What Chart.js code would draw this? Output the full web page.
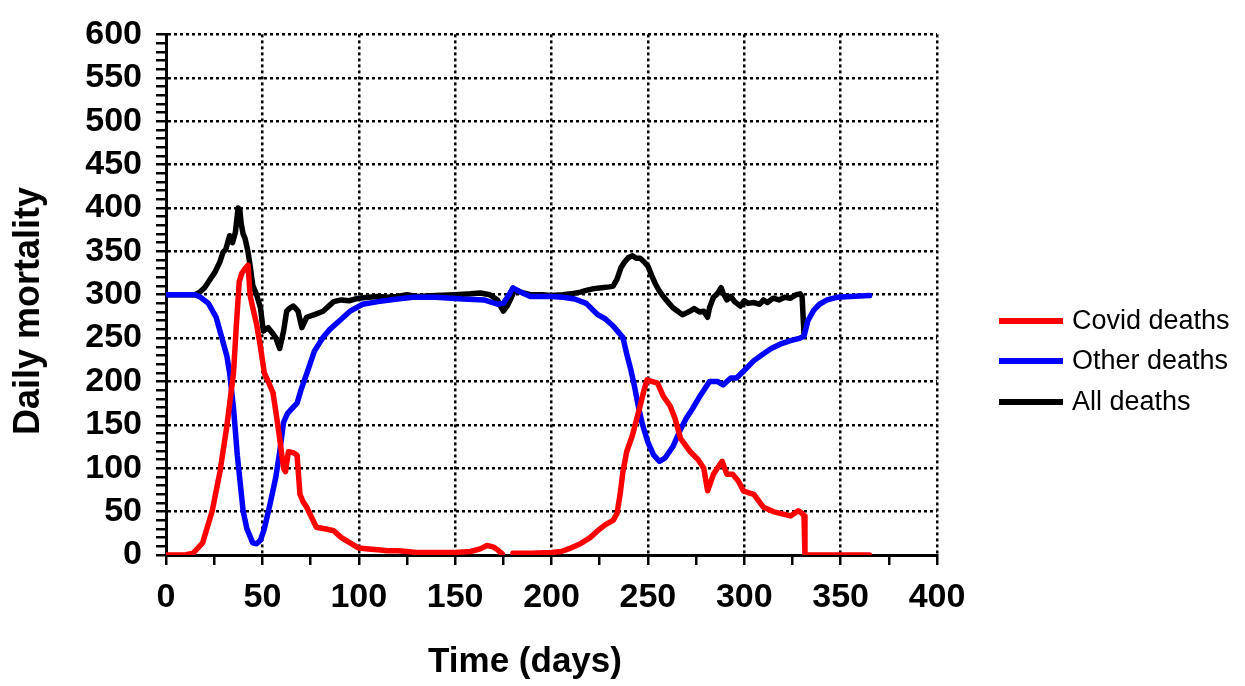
<!DOCTYPE html>
<html>
<head>
<meta charset="utf-8">
<script src="https://cdn.jsdelivr.net/npm/chart.js@4.4.1/dist/chart.umd.min.js"></script>
<style>
  html, body { margin: 0; padding: 0; background: #fff; }
  #wrap { width: 1245px; height: 686px; }
</style>
</head>
<body>
<div id="wrap"><canvas id="mortChart" width="1245" height="686"></canvas></div>
<script>
// ===== DATA =====
const covidDays = [0, 10, 14, 19, 24, 28, 31.6, 35, 36.5, 38, 39.4, 41, 42.6, 43.6, 45, 47, 49, 51, 53, 55.5, 57, 59, 61, 62, 63.5, 66, 68, 69.5, 71, 73, 78, 83, 87, 91, 95.5, 100, 105, 110, 115, 120, 125, 130, 140, 150, 158, 163, 166.5, 170, 172, 174.5,
  177,
  180, 185, 190, 200, 205, 210, 215, 220, 224, 228, 232, 234, 235.6, 237, 239, 242, 244, 246, 248, 249.6, 252, 255, 258, 261.5, 264, 267, 272, 276, 279, 281, 284, 286, 288.5, 291, 294, 297, 299.5, 302, 305, 310, 315, 318.6, 324, 328, 330, 331, 331.5, 365];
const covidValues = [0, 0, 2, 14, 51, 96, 149, 209, 265, 315, 325, 330, 334, 300, 285, 266, 240, 210, 200, 187, 165, 134, 100, 96, 119, 118, 115, 70, 62, 55, 32, 30, 28, 20, 14, 8, 7, 6, 5, 5, 4, 3, 3, 3, 4, 7, 11, 9, 6, 1,
  null,
  2, 2, 2, 3, 4, 8, 13, 20, 28, 35, 40, 48, 70, 95, 119, 138, 155, 172, 190, 202, 200, 198, 183, 172, 158, 134, 119, 110, 100, 74, 93, 100, 108, 93, 93, 85, 74, 72, 70, 55, 50, 48, 45, 51, 48, 45, 0, 0];

const otherDays = [0, 15, 18, 22, 26, 29, 31.6, 33, 35, 37, 40, 42, 45, 47, 49, 51, 54, 57, 59, 61, 63, 65, 68, 70, 73, 77, 81.5, 85, 90, 95.5, 102, 110, 120, 128, 140, 154, 165, 172, 175, 178, 180, 183, 189, 200, 206, 212, 218, 224, 228, 232, 235, 237, 239, 241, 243, 245, 247, 250, 253, 256, 259, 263, 267, 270, 273, 277, 282, 286, 289, 293, 296, 301, 305, 310, 314, 318.6, 324, 329, 331, 333, 336, 339, 343, 348, 355, 365];
const otherValues = [300, 300, 297, 290, 274, 250, 229, 210, 170, 115, 51, 30, 14, 13, 17, 30, 59, 90, 119, 153, 163, 168, 175, 190, 209, 235, 251, 260, 270, 281, 289, 292, 295, 297, 297, 295, 294, 289, 290, 300, 308, 304, 298, 298, 297, 295, 290, 277, 272, 264, 256, 251, 232, 215, 195, 172, 152, 130, 115, 108, 112, 125, 145, 158, 168, 183, 200, 200, 196, 204, 204, 215, 224, 232, 238, 243, 247, 250, 252, 270, 282, 289, 294, 297, 298, 299];

const allDays = [0, 15, 17.6, 20, 23, 25.4, 28, 29.6, 31, 33, 34.5, 36, 37.4, 38.3, 39, 40, 41, 42.5, 43.6, 45, 47, 49, 50.5, 53, 55.5, 57, 59, 61, 62.6, 64, 66, 68.5, 70.5, 73, 77, 81.5, 87, 91, 95, 100, 105, 110, 115, 120, 125, 130, 140, 150, 158, 163, 168, 172, 174, 175, 177, 179, 181, 184, 189, 195, 200, 206, 210, 215, 218, 222, 226, 230, 232, 234, 236, 238, 240, 242, 244, 246, 248, 250, 252, 254, 256, 258, 261, 263, 266, 268, 271, 274, 277, 279, 281, 282, 284, 286, 288, 289, 291, 293, 295, 298, 300, 302, 305, 308, 310, 312, 315, 318, 321, 324, 327, 329, 330, 331];
const allValues = [300, 300, 303, 308, 318, 326, 338, 349, 352, 368, 360, 372, 400, 398, 382, 370, 365, 350, 334, 311, 300, 285, 258, 262, 255, 250, 238, 258, 281, 284, 287, 281, 262, 274, 277, 281, 292, 294, 293, 296, 297, 298, 297, 298, 300, 298, 299, 300, 301, 302, 300, 294, 285, 281, 287, 296, 306, 303, 300, 300, 299, 300, 301, 303, 305, 307, 308, 309, 310, 318, 331, 338, 343, 345, 342, 342, 338, 333, 322, 312, 304, 298, 290, 285, 280, 277, 280, 284, 280, 281, 274, 285, 297, 301, 308, 302, 294, 298, 292, 287, 293, 290, 291, 289, 294, 291, 296, 294, 297, 296, 300, 301, 298, 255];

const xTickLabels = [0, 50, 100, 150, 200, 250, 300, 350, 400];
const yTickLabels = [0, 50, 100, 150, 200, 250, 300, 350, 400, 450, 500, 550, 600];

const seriesNames = ["Covid deaths", "Other deaths", "All deaths"];
const seriesColors = ["#ff0000", "#0000ff", "#000000"];

// ===== HELPERS =====
function toPoints(days, vals) {
  return days.map((d, i) => ({ x: d, y: vals[i] }));
}

const FONT = "'Liberation Sans', Arial, sans-serif";

// legend + axis titles drawn on the canvas
const extraText = {
  id: "extraText",
  afterDraw(chart) {
    const c = chart.ctx;
    c.save();
    // legend
    c.font = "27px " + FONT;
    c.textBaseline = "middle";
    c.textAlign = "left";
    const rows = [321, 361, 402];
    seriesNames.forEach((name, i) => {
      c.strokeStyle = seriesColors[i];
      c.lineWidth = 6;
      c.beginPath();
      c.moveTo(999, rows[i]);
      c.lineTo(1063, rows[i]);
      c.stroke();
      c.fillStyle = "#000";
      c.fillText(name, 1072, rows[i] + 1);
    });
    // axis titles
    c.font = "bold 35px " + FONT;
    c.textAlign = "center";
    c.fillText("Time (days)", 525, 662);
    c.translate(29, 311);
    c.rotate(-Math.PI / 2);
    c.font = "bold 36px " + FONT;
    c.fillText("Daily mortality", 0, 0);
    c.restore();
  }
};

const gridColor = c => (c.tick && c.tick.value % 50 === 0) ? "#000" : "rgba(0,0,0,0)";

// ===== CHART =====
const ctx = document.getElementById("mortChart").getContext("2d");

const mortChart = new Chart(ctx, {
  type: "line",
  data: {
    datasets: [
      {
        label: seriesNames[0],
        data: toPoints(covidDays, covidValues),
        borderColor: seriesColors[0],
        borderWidth: 5.5,
        spanGaps: false
      },
      {
        label: seriesNames[1],
        data: toPoints(otherDays, otherValues),
        borderColor: seriesColors[1],
        borderWidth: 5.5
      },
      {
        label: seriesNames[2],
        data: toPoints(allDays, allValues),
        borderColor: seriesColors[2],
        borderWidth: 5.5
      }
    ]
  },
  options: {
    responsive: false,
    animation: false,
    devicePixelRatio: 1,
    layout: { padding: { top: 27, right: 308, bottom: 0, left: 0 } },
    elements: {
      line: { tension: 0, borderJoinStyle: "round", borderCapStyle: "round", fill: false },
      point: { radius: 0, hoverRadius: 0 }
    },
    plugins: {
      legend: { display: false },
      tooltip: { enabled: false }
    },
    scales: {
      x: {
        type: "linear",
        min: 0,
        max: 400,
        afterFit: s => { s.height = 131; },
        ticks: {
          stepSize: 25,
          padding: 12,
          autoSkip: false,
          maxRotation: 0,
          minRotation: 0,
          color: "#000",
          font: { family: FONT, size: 34, weight: "bold" },
          callback: v => xTickLabels.includes(v) ? String(v) : ""
        },
        grid: {
          color: gridColor,
          lineWidth: 2.5,
          tickColor: "#000",
          tickLength: 10,
          tickWidth: 2.5
        },
        border: { display: true, color: "#000", width: 3, dash: [3, 3] }
      },
      y: {
        min: 0,
        max: 600,
        afterFit: s => { s.width = 166; },
        ticks: {
          stepSize: 10,
          padding: 14,
          autoSkip: false,
          color: "#000",
          font: { family: FONT, size: 34, weight: "bold" },
          callback: v => yTickLabels.includes(v) ? String(v) : ""
        },
        grid: {
          color: gridColor,
          lineWidth: 2.5,
          tickColor: "#000",
          tickLength: 10,
          tickWidth: 2.5
        },
        border: { display: true, color: "#000", width: 3, dash: [3, 3] }
      }
    }
  },
  plugins: [extraText]
});
</script>
</body>
</html>
